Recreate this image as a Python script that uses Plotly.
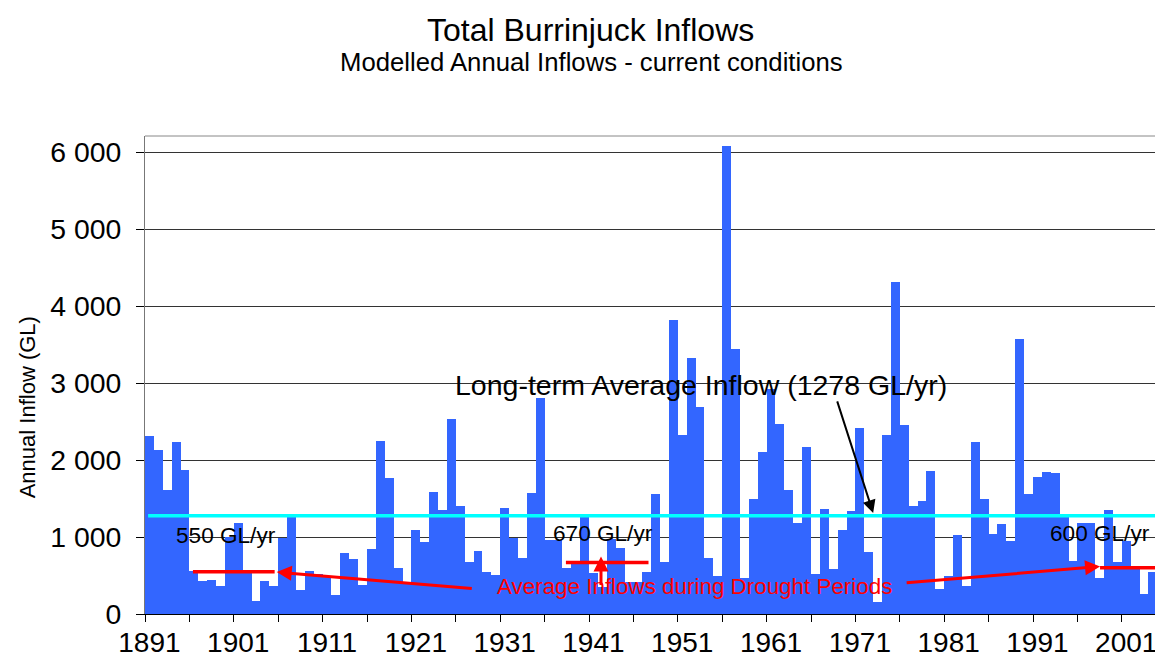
import plotly.graph_objects as go

years = list(range(1891, 2006))
inflows = [
    2315, 2134, 1618, 2229, 1865, 560, 424, 445, 359, 1000,
    1180, 575, 164, 432, 367, 987, 1255, 307, 562, 525,
    480, 250, 796, 718, 372, 848, 2250, 1770, 601, 400,
    1095, 939, 1588, 1355, 2536, 1406, 679, 822, 549, 510,
    1380, 991, 731, 1575, 2809, 956, 956, 593, 692, 1263,
    532, 350, 969, 861, 420, 420, 541, 1562, 679, 3822,
    2325, 3329, 2684, 731, 497, 6086, 3445, 471, 1497, 2108,
    2922, 2471, 1614, 1177, 2173, 514, 1367, 588, 1095, 1342,
    2419, 809, 150, 2329, 4316, 2458, 1408, 1473, 1861, 320,
    497, 1030, 370, 2238, 1497, 1045, 1175, 954, 3580, 1562,
    1785, 1848, 1835, 1303, 692, 1186, 1186, 471, 1355, 679,
    952, 580, 264, 549, 355,
]
long_term_avg = 1278
drought_periods = [  # (start, end, average)
    (1895.9, 1905.1, 550),
    (1937.9, 1947.2, 670),
    (1998.05, 2008.0, 600),
]
drought_labels = ["550 GL/yr", "670 GL/yr", "600 GL/yr"]
drought_label_pos = [(1899.66, 1017), (1942.1, 1047), (1998.05, 1052)]
x_label_years = list(range(1891, 2002, 10))
y_ticks = [0, 1000, 2000, 3000, 4000, 5000, 6000]
y_ticktext = ["0", "1 000", "2 000", "3 000", "4 000", "5 000", "6 000"]

FONT = "Liberation Sans, Arial, sans-serif"
BLUE = "#3366FF"
RED = "#FF0000"

fig = go.Figure()
fig.add_trace(go.Bar(x=years, y=inflows, width=1, marker=dict(color=BLUE, line=dict(width=0)),
                     hoverinfo="x+y"))

shapes = []
shapes.append(dict(type="line", xref="x", yref="y", x0=1890.85, x1=2010, y0=long_term_avg, y1=long_term_avg,
                   line=dict(color="#00FFFF", width=3.5)))
for (x0, x1, v) in drought_periods:
    shapes.append(dict(type="line", xref="x", yref="y", x0=x0, x1=x1, y0=v, y1=v,
                       line=dict(color=RED, width=3.5)))
shapes.append(dict(type="line", xref="paper", yref="paper", x0=0, x1=1, y0=1, y1=1,
                   line=dict(color="#888888", width=1)))

PH = 478.0  # plot height in px
annotations = [
    dict(text="Total Burrinjuck Inflows", xref="paper", yref="paper", x=(590 - 145) / 1018, y=(614 - 30) / PH,
         showarrow=False, font=dict(family=FONT, size=32, color="black"), xanchor="center", yanchor="middle"),
    dict(text="Modelled Annual Inflows - current conditions", xref="paper", yref="paper",
         x=(591 - 145) / 1018, y=(614 - 62) / PH,
         showarrow=False, font=dict(family=FONT, size=25.7, color="black"), xanchor="center", yanchor="middle"),
    dict(text="Annual Inflow (GL)", xref="paper", yref="y", x=(27 - 145) / 1018, y=2686, textangle=-90,
         showarrow=False, font=dict(family=FONT, size=22, color="black"), xanchor="center", yanchor="middle"),
    dict(text="Long-term Average Inflow (1278 GL/yr)", xref="x", yref="y", x=1953.1, y=2978,
         showarrow=False, font=dict(family=FONT, size=28.5, color="black"), xanchor="center", yanchor="middle"),
    dict(text="", xref="x", yref="y", x=1972.5, y=1312, axref="x", ayref="y", ax=1968.4, ay=2783,
         showarrow=True, arrowhead=2, arrowsize=1.3, arrowwidth=2, arrowcolor="black"),
    dict(text="Average Inflows during Drought Periods", xref="x", yref="y", x=1952.38, y=351,
         showarrow=False, font=dict(family=FONT, size=22.4, color=RED), xanchor="center", yanchor="middle"),
    dict(text="", xref="x", yref="y", x=1905.33, y=545, axref="x", ayref="y", ax=1927.47, ay=329,
         showarrow=True, arrowhead=2, arrowsize=1, arrowwidth=3, arrowcolor=RED),
    dict(text="", xref="x", yref="y", x=1941.85, y=748, axref="x", ayref="y", ax=1941.85, ay=358,
         showarrow=True, arrowhead=2, arrowsize=1, arrowwidth=3, arrowcolor=RED),
    dict(text="", xref="x", yref="y", x=1998.05, y=618, axref="x", ayref="y", ax=1976.1, ay=403,
         showarrow=True, arrowhead=2, arrowsize=1, arrowwidth=3, arrowcolor=RED),
]
for txt, (lx, ly) in zip(drought_labels, drought_label_pos):
    annotations.append(dict(text=txt, xref="x", yref="y", x=lx, y=ly, showarrow=False,
                            font=dict(family=FONT, size=22.6, color="black"), xanchor="center", yanchor="middle"))

# the page body adds an 8px margin, so the figure is sized/offset to compensate
fig.update_layout(
    width=1155, height=658,
    margin=dict(l=137, r=0, t=128, b=52, autoexpand=False),
    paper_bgcolor="white", plot_bgcolor="white",
    bargap=0, showlegend=False,
    font=dict(family=FONT, size=27, color="black"),
    shapes=shapes, annotations=annotations,
    xaxis=dict(
        range=[1890.5, 1890.5 + 1018 / 8.88],
        automargin=False,
        tickmode="array", tickvals=x_label_years, ticktext=[str(y) for y in x_label_years],
        ticks="", showgrid=False, zeroline=False,
        showline=True, linecolor="black", linewidth=1,
        tickfont=dict(family=FONT, size=28, color="black"),
        ticklabelstandoff=3,
        minor=dict(tickvals=[1890.5 + 5 * k for k in range(24)], ticks="outside", ticklen=7,
                   tickcolor="black", tickwidth=1, showgrid=False),
    ),
    yaxis=dict(
        range=[0, 6212],
        automargin=False,
        tickmode="array", tickvals=y_ticks, ticktext=y_ticktext,
        ticks="outside", ticklen=8, tickcolor="black", tickwidth=1,
        showgrid=True, gridcolor="#333333", gridwidth=1, zeroline=False,
        showline=True, linecolor="#777777", linewidth=1,
        tickfont=dict(family=FONT, size=28.4, color="black"),
        ticklabelstandoff=9,
    ),
)

fig.write_html("out.html")
